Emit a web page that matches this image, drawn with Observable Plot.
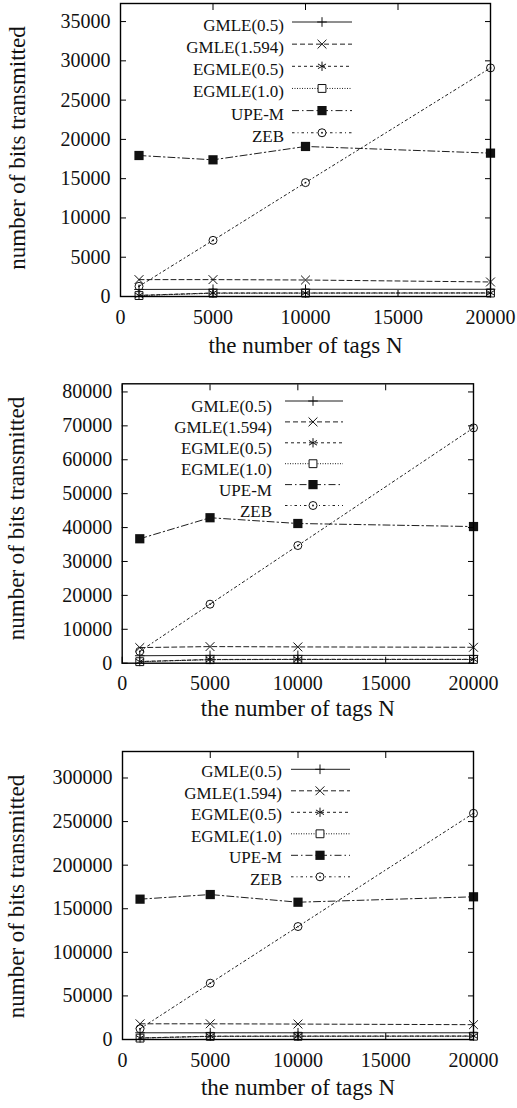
<!DOCTYPE html>
<html><head><meta charset="utf-8">
<script src="https://cdn.jsdelivr.net/npm/d3@7"></script>
<script src="https://cdn.jsdelivr.net/npm/@observablehq/plot@0.6"></script>
<style>
body{margin:0;background:#fff;}
#root{width:517px;}
#root svg{display:block;overflow:visible;}
#root svg, #root svg text{font-family:'Liberation Serif','Times New Roman',serif !important;}
</style></head><body><div id="root"></div>
<script>
// ---- data ----
const N = [1000, 5000, 10000, 20000];
const seriesNames = ["GMLE(0.5)", "GMLE(1.594)", "EGMLE(0.5)", "EGMLE(1.0)", "UPE-M", "ZEB"];
const xTicks = [0, 5000, 10000, 15000, 20000];
const xTitle = "the number of tags N";
const yTitle = "number of bits transmitted";

// panel 1
const p1GMLE05   = [900, 920, 920, 920];
const p1GMLE1594 = [2150, 2150, 2100, 1850];
const p1EGMLE05  = [150, 450, 450, 460];
const p1EGMLE10  = [120, 420, 430, 440];
const p1UPEM     = [17950, 17400, 19100, 18250];
const p1ZEB      = [1300, 7150, 14500, 29100];
const p1YTicks   = [0, 5000, 10000, 15000, 20000, 25000, 30000, 35000];
const p1YMax     = 37300;

// panel 2
const p2GMLE05   = [2200, 2300, 2300, 2300];
const p2GMLE1594 = [4600, 4900, 4800, 4700];
const p2EGMLE05  = [500, 1100, 1150, 1150];
const p2EGMLE10  = [450, 1050, 1100, 1100];
const p2UPEM     = [36700, 42900, 41200, 40300];
const p2ZEB      = [3500, 17400, 34700, 69400];
const p2YTicks   = [0, 10000, 20000, 30000, 40000, 50000, 60000, 70000, 80000];
const p2YMax     = 82400;

// panel 3
const p3GMLE05   = [7700, 7700, 7700, 7700];
const p3GMLE1594 = [18000, 18000, 17700, 17000];
const p3EGMLE05  = [1800, 3800, 3900, 4000];
const p3EGMLE10  = [1600, 3600, 3700, 3800];
const p3UPEM     = [161000, 166300, 157500, 163700];
const p3ZEB      = [12300, 64600, 129600, 259500];
const p3YTicks   = [0, 50000, 100000, 150000, 200000, 250000, 300000];
const p3YMax     = 330400;

// ---- styles ----
const serif = "'Liberation Serif', 'Times New Roman', serif";
const ink = "#111";
const lineInk = "#1e1e1e";
const styles = [
  {dash: null,        symbol: "plus",     d3s: d3.symbolPlus,     r: 3.2, filled: false},
  {dash: "5,3",       symbol: "times",    d3s: d3.symbolTimes,    r: 4.1, filled: false},
  {dash: "3,3",       symbol: "asterisk", d3s: d3.symbolAsterisk, r: 4.4, filled: false},
  {dash: "1,1.5",     symbol: "square2",  d3s: d3.symbolSquare2,  r: 5,   filled: false},
  {dash: "7,3,1.5,3", symbol: "square",   d3s: d3.symbolSquare,   r: 5.2, filled: true},
  {dash: "2.5,3,1,3", symbol: "circle",   d3s: d3.symbolCircle,   r: 4,   filled: false}
];

const panels = [
  {values: [p1GMLE05, p1GMLE1594, p1EGMLE05, p1EGMLE10, p1UPEM, p1ZEB], yTicks: p1YTicks, yMax: p1YMax,
   height: 370, mt: 3, mb: 74, ml: 120, mr: 27,
   xTitleDy: 56, yTitleDx: -102.5, yTitleDy: -2,
   leg: {tx: 284, x1: 292, x2: 352, mx: 322, y0: 22, dy: 22.15, tdy: 3}},
  {values: [p2GMLE05, p2GMLE1594, p2EGMLE05, p2EGMLE10, p2UPEM, p2ZEB], yTicks: p2YTicks, yMax: p2YMax,
   height: 370, mt: 13.3, mb: 77.3, ml: 121.7, mr: 44,
   xTitleDy: 52.5, yTitleDx: -105.7, yTitleDy: -5,
   leg: {tx: 272, x1: 285, x2: 343, mx: 313, y0: 31, dy: 20.9, tdy: 5.5}},
  {values: [p3GMLE05, p3GMLE1594, p3EGMLE05, p3EGMLE10, p3UPEM, p3ZEB], yTicks: p3YTicks, yMax: p3YMax,
   height: 368, mt: 11, mb: 69, ml: 122, mr: 44,
   xTitleDy: 55.3, yTitleDx: -106, yTitleDy: 1,
   leg: {tx: 282, x1: 291, x2: 350, mx: 320, y0: 29.3, dy: 21.5, tdy: 2}}
];

function makePanel(cfg) {
  const marks = [];
  seriesNames.forEach((name, i) => {
    const st = styles[i];
    const d = N.map((n, j) => ({n, v: cfg.values[i][j], series: name}));
    marks.push(Plot.line(d, {x: "n", y: "v", stroke: lineInk, strokeWidth: 1, strokeDasharray: st.dash}));
  });
  seriesNames.forEach((name, i) => {
    const st = styles[i];
    const d = N.map((n, j) => ({n, v: cfg.values[i][j], series: name}));
    marks.push(Plot.dot(d, {x: "n", y: "v", symbol: st.symbol, r: st.r,
      fill: st.filled ? ink : "none", stroke: st.filled ? "none" : ink, strokeWidth: 1}));
    if (st.symbol === "circle") marks.push(Plot.dot(d, {x: "n", y: "v", r: 0.9, fill: ink}));
  });
  marks.push(Plot.frame({stroke: "#000", strokeWidth: 1.4}));
  // inward ticks (mirrored)
  marks.push(Plot.axisX({anchor: "bottom", ticks: xTicks, tickSize: -6, tickFormat: () => "", label: null, stroke: "#000"}));
  marks.push(Plot.axisX({anchor: "top", ticks: xTicks, tickSize: -6, tickFormat: () => "", label: null, stroke: "#000"}));
  marks.push(Plot.axisY({anchor: "left", ticks: cfg.yTicks, tickSize: -6, tickFormat: () => "", label: null, stroke: "#000"}));
  marks.push(Plot.axisY({anchor: "right", ticks: cfg.yTicks, tickSize: -6, tickFormat: () => "", label: null, stroke: "#000"}));
  // tick labels
  marks.push(Plot.axisX({anchor: "bottom", ticks: xTicks, tickSize: 0, tickPadding: 13, tickFormat: d3.format("d"), label: null, fontSize: 20, fontFamily: serif, fill: ink}));
  marks.push(Plot.axisY({anchor: "left", ticks: cfg.yTicks, tickSize: 0, tickPadding: 10, tickFormat: d3.format("d"), label: null, fontSize: 20, fontFamily: serif, fill: ink}));
  // titles
  marks.push(Plot.text([xTitle], {text: d => d, frameAnchor: "bottom", textAnchor: "middle", dy: cfg.xTitleDy, fontSize: 23, fontFamily: serif, fill: ink}));
  marks.push(Plot.text([yTitle], {text: d => d, frameAnchor: "left", textAnchor: "middle", dx: cfg.yTitleDx, dy: cfg.yTitleDy, rotate: -90, fontSize: 23, fontFamily: serif, fill: ink}));

  const svg = Plot.plot({
    width: 517, height: cfg.height,
    marginTop: cfg.mt, marginBottom: cfg.mb, marginLeft: cfg.ml, marginRight: cfg.mr,
    x: {domain: [0, 20000]},
    y: {domain: [0, cfg.yMax]},
    style: {fontFamily: serif, fontSize: "20px", color: ink, background: "#fff"},
    marks
  });

  // legend inside frame
  const L = cfg.leg;
  const g = d3.select(svg).append("g").attr("class", "legend");
  seriesNames.forEach((name, i) => {
    const st = styles[i];
    const y = L.y0 + i * L.dy;
    g.append("text").attr("x", L.tx).attr("y", y + L.tdy).attr("dy", "0.35em")
      .attr("text-anchor", "end").attr("font-size", 17).attr("fill", ink)
      .attr("font-family", serif).text(name);
    g.append("line").attr("x1", L.x1).attr("x2", L.x2).attr("y1", y).attr("y2", y)
      .attr("stroke", lineInk).attr("stroke-width", 1).attr("stroke-dasharray", st.dash);
    g.append("path").attr("transform", `translate(${L.mx},${y})`)
      .attr("d", d3.symbol(st.d3s, Math.PI * st.r * st.r)())
      .attr("fill", st.filled ? ink : "#fff").attr("stroke", st.filled ? "none" : ink).attr("stroke-width", 1);
    if (st.symbol === "circle") g.append("circle").attr("cx", L.mx).attr("cy", y).attr("r", 0.9).attr("fill", ink);
  });
  return svg;
}

const root = document.getElementById("root");
panels.forEach(cfg => root.appendChild(makePanel(cfg)));
</script>
</body></html>
